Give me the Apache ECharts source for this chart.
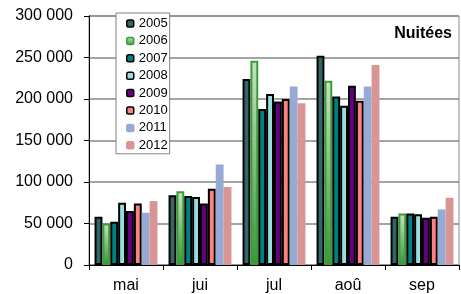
<!DOCTYPE html>
<html>
<head>
<meta charset="utf-8">
<script src="https://cdn.jsdelivr.net/npm/echarts@6/dist/echarts.min.js"></script>
<style>
  html, body { margin: 0; padding: 0; background: #fff; }
  #chart { width: 461px; height: 294px; }
</style>
</head>
<body>
<div id="chart"></div>
<script>
var months = ['mai', 'jui', 'jul', 'aoû', 'sep'];
var years = ['2005', '2006', '2007', '2008', '2009', '2010', '2011', '2012'];

var v2005 = [58000, 84000, 224000, 252000, 58000];
var v2006 = [50000, 89000, 246000, 222000, 62000];
var v2007 = [52000, 83000, 188000, 203000, 62000];
var v2008 = [75000, 82000, 206000, 192000, 61000];
var v2009 = [65000, 74000, 197000, 216000, 57000];
var v2010 = [74000, 92000, 200000, 198000, 58000];
var v2011 = [63000, 121000, 215000, 215000, 67000];
var v2012 = [77000, 94000, 195000, 241000, 81000];

var yTicks = [0, 50000, 100000, 150000, 200000, 250000, 300000];

var values = [v2005, v2006, v2007, v2008, v2009, v2010, v2011, v2012];

// fill, border colour, border width per year
var looks = [
    {color: '#336666', borderColor: '#000', borderWidth: 2},
    {color: new echarts.graphic.LinearGradient(0, 0, 0, 1, [
        {offset: 0, color: '#c4e4bc'},
        {offset: 1, color: '#3a963a'}
    ]), borderColor: '#3c9c3c', borderWidth: 2},
    {color: '#008080', borderColor: '#000', borderWidth: 2},
    {color: '#99dede', borderColor: '#000', borderWidth: 2},
    {color: '#660080', borderColor: '#000', borderWidth: 2},
    {color: '#ff8080', borderColor: '#000', borderWidth: 2},
    {color: '#97aad4', borderColor: '#97aad4', borderWidth: 0},
    {color: '#d99594', borderColor: '#d99594', borderWidth: 0}
];

var font = 'Liberation Sans, Arial, sans-serif';

var dom = document.getElementById('chart');
var myChart = echarts.init(dom, null, {renderer: 'canvas'});

var series = [];
for (var i = 0; i < years.length; i++) {
    series.push({
        name: years[i],
        type: 'bar',
        data: values[i],
        barGap: '0%',
        barCategoryGap: '15%',
        itemStyle: looks[i],
        animation: false
    });
}

var option = {
    animation: false,
    title: {
        text: 'Nuitées',
        right: 9,
        top: 26,
        padding: 0,
        textStyle: {fontFamily: font, fontSize: 16, fontWeight: 'bold', color: '#000'}
    },
    legend: {
        data: years,
        orient: 'vertical',
        left: 116,
        top: 13,
        padding: [4, 2, 2, 10],
        itemGap: 4.4,
        itemWidth: 7,
        itemHeight: 7,
        backgroundColor: '#fff',
        borderColor: '#808080',
        borderWidth: 1,
        textStyle: {fontFamily: font, fontSize: 13, color: '#000', lineHeight: 13},
        itemStyle: {borderWidth: 1.5}
    },
    grid: {
        left: 89,
        right: 2,
        top: 16,
        bottom: 29,
        show: true,
        borderColor: '#868686',
        borderWidth: 1
    },
    xAxis: {
        type: 'category',
        data: months,
        axisLine: {lineStyle: {color: '#000', width: 1}},
        axisTick: {show: true, length: 5, lineStyle: {color: '#000'}},
        axisLabel: {fontFamily: font, fontSize: 16, color: '#000', margin: 13}
    },
    yAxis: {
        type: 'value',
        min: yTicks[0],
        max: yTicks[yTicks.length - 1],
        interval: yTicks[1] - yTicks[0],
        axisLine: {show: true, lineStyle: {color: '#000', width: 1}},
        axisTick: {show: true, length: 5, lineStyle: {color: '#000'}},
        splitLine: {lineStyle: {color: '#868686', width: 1.5}},
        axisLabel: {
            fontFamily: font, fontSize: 16, color: '#000', margin: 16,
            formatter: function (v) {
                return String(v).replace(/\B(?=(\d{3})+(?!\d))/g, ' ');
            }
        }
    },
    series: series
};

if (option && typeof option === 'object') {
    myChart.setOption(option, true);
}
</script>
</body>
</html>
